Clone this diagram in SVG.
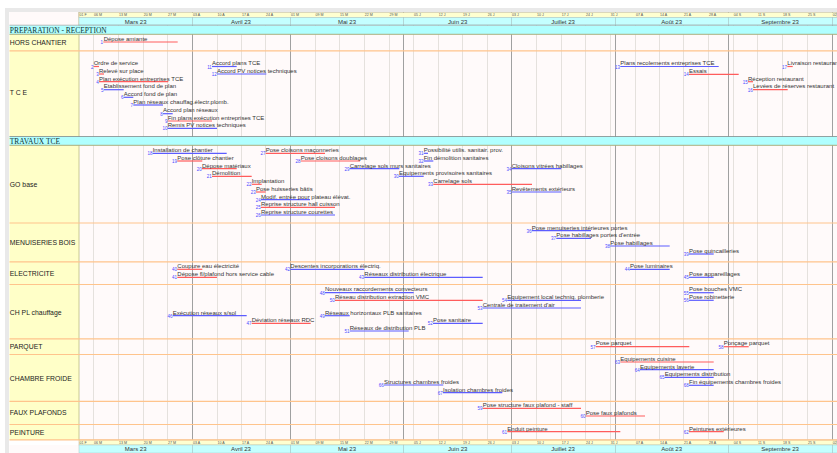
<svg xmlns="http://www.w3.org/2000/svg" width="837" height="453" viewBox="0 0 837 453">
<style>
text{font-family:"Liberation Sans",Arial,sans-serif;fill:#333}
.t{font-size:6px}
.n{font-size:4.5px;fill:#4a4aff;text-anchor:end}
.b{stroke-width:1.2;fill:none}
.blue{stroke:#5c5cff}
.red{stroke:#ff5c5c}
.row{font-size:6.85px;fill:#222}
.sec{font-family:"Liberation Serif","Times New Roman",serif;font-size:7.45px;fill:#113333}
.w{font-size:3.6px;fill:#555}
.m{font-size:6px;text-anchor:middle}
.g{stroke:#e5e1dd;stroke-width:1}
.d{stroke:#a0a0a0;stroke-width:1}
.sep{stroke:#ffc48c;stroke-width:1.2}
.secbox{fill:#b0ffff}
.mbox{fill:#c4ffff;stroke:#a9c8c8;stroke-width:.5}
.wbox{fill:#ffffd0;stroke:#b8b090;stroke-width:.5}
</style>
<rect width="837" height="453" fill="#fff"/>
<path d="M5 453V8H837V12H9V453Z" fill="#e9e9e9"/>
<g id="grid">
<rect x="79" y="25" width="758" height="415" fill="#fffafa"/>
<rect x="9.500" y="12" width="69.500" height="13" fill="#fffafa"/>
<rect x="9.500" y="445" width="69.500" height="8" fill="#fffafa"/>
<rect x="9.500" y="34" width="69.500" height="406" fill="#ffffc8"/>
<path class="g" d="M93.500 25V440M118.500 25V440M143.500 25V440M167.500 25V440M217.500 25V440M241.500 25V440M265.500 25V440M315.500 25V440M339.500 25V440M364.500 25V440M389.500 25V440M413.500 25V440M438.500 25V440M462.500 25V440M487.500 25V440M536.500 25V440M561.500 25V440M585.500 25V440M610.500 25V440M635.500 25V440M659.500 25V440M683.500 25V440M708.500 25V440M733.500 25V440M757.500 25V440M782.500 25V440M807.500 25V440"/>
<path class="d" d="M192.500 12V453M290.500 12V453M403.500 12V453M511.500 12V453M615.500 12V453M728.500 12V453M832.500 12V453"/>
<path stroke="#c8c894" d="M79 12V440" stroke-width="1"/>
</g>
<g id="timeline-top">
<rect class="wbox" x="79" y="12.500" width="758" height="5"/>
<rect class="mbox" x="79" y="17.500" width="113.500" height="7.500"/><rect class="mbox" x="192.500" y="17.500" width="98" height="7.500"/><rect class="mbox" x="290.500" y="17.500" width="113" height="7.500"/><rect class="mbox" x="403.500" y="17.500" width="108" height="7.500"/><rect class="mbox" x="511.500" y="17.500" width="104" height="7.500"/><rect class="mbox" x="615.500" y="17.500" width="113" height="7.500"/><rect class="mbox" x="728.500" y="17.500" width="104" height="7.500"/><rect class="mbox" x="832.500" y="17.500" width="5" height="7.500"/>
<text class="m" x="135.700" y="23.500">Mars 23</text><text class="m" x="241" y="23.500">Avril 23</text><text class="m" x="347" y="23.500">Mai 23</text><text class="m" x="457.700" y="23.500">Juin 23</text><text class="m" x="563" y="23.500">Juillet 23</text><text class="m" x="671.700" y="23.500">Août 23</text><text class="m" x="780" y="23.500">Septembre 23</text>
<g class="weeks"><text class="w" x="79.500" y="16.300">01 F</text><text class="w" x="94" y="16.300">06 M</text><text class="w" x="119" y="16.300">13 M</text><text class="w" x="143.800" y="16.300">20 M</text><text class="w" x="168" y="16.300">27 M</text><text class="w" x="193" y="16.300">03 A</text><text class="w" x="217.500" y="16.300">10 A</text><text class="w" x="242" y="16.300">17 A</text><text class="w" x="266" y="16.300">24 A</text><text class="w" x="291" y="16.300">01 M</text><text class="w" x="315.500" y="16.300">09 M</text><text class="w" x="340" y="16.300">15 M</text><text class="w" x="364.800" y="16.300">22 M</text><text class="w" x="389.500" y="16.300">29 M</text><text class="w" x="414" y="16.300">05 J</text><text class="w" x="438.800" y="16.300">12 J</text><text class="w" x="463" y="16.300">19 J</text><text class="w" x="487.800" y="16.300">26 J</text><text class="w" x="512" y="16.300">03 J</text><text class="w" x="537" y="16.300">10 J</text><text class="w" x="561.800" y="16.300">17 J</text><text class="w" x="586" y="16.300">24 J</text><text class="w" x="610.800" y="16.300">31 J</text><text class="w" x="636" y="16.300">07 A</text><text class="w" x="660" y="16.300">14 A</text><text class="w" x="684" y="16.300">21 A</text><text class="w" x="709" y="16.300">28 A</text><text class="w" x="733.800" y="16.300">04 S</text><text class="w" x="758" y="16.300">11 S</text><text class="w" x="783" y="16.300">18 S</text><text class="w" x="808" y="16.300">25 S</text><text class="w" x="832.800" y="16.300">02 O</text></g>
</g>
<g id="timeline-bottom">
<rect class="wbox" x="79" y="440" width="758" height="5"/>
<rect class="mbox" x="79" y="445" width="113.500" height="8"/><rect class="mbox" x="192.500" y="445" width="98" height="8"/><rect class="mbox" x="290.500" y="445" width="113" height="8"/><rect class="mbox" x="403.500" y="445" width="108" height="8"/><rect class="mbox" x="511.500" y="445" width="104" height="8"/><rect class="mbox" x="615.500" y="445" width="113" height="8"/><rect class="mbox" x="728.500" y="445" width="104" height="8"/><rect class="mbox" x="832.500" y="445" width="5" height="8"/>
<text class="m" x="135.700" y="451.300">Mars 23</text><text class="m" x="241" y="451.300">Avril 23</text><text class="m" x="347" y="451.300">Mai 23</text><text class="m" x="457.700" y="451.300">Juin 23</text><text class="m" x="563" y="451.300">Juillet 23</text><text class="m" x="671.700" y="451.300">Août 23</text><text class="m" x="780" y="451.300">Septembre 23</text>
<g class="weeks"><text class="w" x="79.500" y="444">01 F</text><text class="w" x="94" y="444">06 M</text><text class="w" x="119" y="444">13 M</text><text class="w" x="143.800" y="444">20 M</text><text class="w" x="168" y="444">27 M</text><text class="w" x="193" y="444">03 A</text><text class="w" x="217.500" y="444">10 A</text><text class="w" x="242" y="444">17 A</text><text class="w" x="266" y="444">24 A</text><text class="w" x="291" y="444">01 M</text><text class="w" x="315.500" y="444">09 M</text><text class="w" x="340" y="444">15 M</text><text class="w" x="364.800" y="444">22 M</text><text class="w" x="389.500" y="444">29 M</text><text class="w" x="414" y="444">05 J</text><text class="w" x="438.800" y="444">12 J</text><text class="w" x="463" y="444">19 J</text><text class="w" x="487.800" y="444">26 J</text><text class="w" x="512" y="444">03 J</text><text class="w" x="537" y="444">10 J</text><text class="w" x="561.800" y="444">17 J</text><text class="w" x="586" y="444">24 J</text><text class="w" x="610.800" y="444">31 J</text><text class="w" x="636" y="444">07 A</text><text class="w" x="660" y="444">14 A</text><text class="w" x="684" y="444">21 A</text><text class="w" x="709" y="444">28 A</text><text class="w" x="733.800" y="444">04 S</text><text class="w" x="758" y="444">11 S</text><text class="w" x="783" y="444">18 S</text><text class="w" x="808" y="444">25 S</text><text class="w" x="832.800" y="444">02 O</text></g>
</g>
<g id="sections">
<g id="sec-preparation"><rect class="secbox" x="9.500" y="25.500" width="827.500" height="9"/><path d="M9.500 25.200H837" stroke="#8a9090" stroke-width=".6"/><path d="M9.500 34.300H837" stroke="#a89a60" stroke-width=".8"/><text class="sec" x="9.800" y="32.500">PREPARATION - RECEPTION</text></g>
<g id="sec-travaux"><rect class="secbox" x="9.500" y="136.500" width="827.500" height="9"/><path d="M9.500 136.500H837" stroke="#808a8a" stroke-width=".8"/><path d="M9.500 145.300H837" stroke="#a89a60" stroke-width=".8"/><text class="sec" x="9.800" y="143.500">TRAVAUX TCE</text></g>
</g>
<g id="rows">
<path class="sep" d="M9.500 50.800H837M9.500 223H837M9.500 261.800H837M9.500 284.500H837M9.500 338.800H837M9.500 354.500H837M9.500 401.300H837M9.500 424.500H837M9.500 439.800H837"/>
<g id="row-hors"><text class="row" x="9.800" y="45.300">HORS CHANTIER</text></g>
<g id="row-tce"><text class="row" x="9.800" y="95.300">T C E</text></g>
<g id="row-go"><text class="row" x="9.800" y="187.300">GO base</text></g>
<g id="row-menuiseries"><text class="row" x="9.800" y="245.300">MENUISERIES BOIS</text></g>
<g id="row-electricite"><text class="row" x="9.800" y="275.800">ELECTRICITE</text></g>
<g id="row-chpl"><text class="row" x="9.800" y="314.500">CH PL chauffage</text></g>
<g id="row-parquet"><text class="row" x="9.800" y="349">PARQUET</text></g>
<g id="row-chambre"><text class="row" x="9.800" y="380.500">CHAMBRE FROIDE</text></g>
<g id="row-faux"><text class="row" x="9.800" y="415">FAUX PLAFONDS</text></g>
<g id="row-peinture"><text class="row" x="9.800" y="434.500">PEINTURE</text></g>
</g>
<g id="tasks">
<g id="task-1"><path class="b red" d="M103.300 42H177.700"/><text class="n" x="103" y="44">1</text><text class="t" x="103.700" y="41">Dépose amiante</text></g>
<g id="task-2"><path class="b red" d="M93.700 66.500H99"/><text class="n" x="93.500" y="68.500">2</text><text class="t" x="93.700" y="65">Ordre de service</text></g>
<g id="task-3"><path class="b red" d="M99 74H104"/><text class="n" x="98.800" y="76">3</text><text class="t" x="99" y="73">Relevé sur place</text></g>
<g id="task-4"><path class="b red" d="M99 81.700H168.300"/><text class="n" x="98.800" y="83.700">4</text><text class="t" x="99" y="80.700">Plan exécution entreprises TCE</text></g>
<g id="task-5"><path class="b blue" d="M103.700 89.700H123.700"/><text class="n" x="103.500" y="91.700">5</text><text class="t" x="103.700" y="88">Etablissement fond de plan</text></g>
<g id="task-6"><path class="b blue" d="M123.700 97.300H133.300"/><text class="n" x="123.500" y="99.300">6</text><text class="t" x="123.700" y="96.300">Accord fond de plan</text></g>
<g id="task-7"><path class="b blue" d="M133.300 105H163"/><text class="n" x="133" y="107">7</text><text class="t" x="133.300" y="104">Plan réseaux chauffag.électr.plomb.</text></g>
<g id="task-8"><path class="b blue" d="M163 113.700H172.700"/><text class="n" x="162.800" y="115.700">8</text><text class="t" x="163" y="111.500">Accord plan réseaux</text></g>
<g id="task-9"><path class="b red" d="M167.700 121H212"/><text class="n" x="167.500" y="123">9</text><text class="t" x="167.700" y="119.800">Fin plans exécution entreprises TCE</text></g>
<g id="task-10"><path class="b blue" d="M167.700 128.300H217"/><text class="n" x="167.500" y="130.300">10</text><text class="t" x="167.700" y="127">Remis PV notices techniques</text></g>
<g id="task-11"><path class="b blue" d="M212 66.500H236.700"/><text class="n" x="211.800" y="68.500">11</text><text class="t" x="212" y="65">Accord plans TCE</text></g>
<g id="task-12"><path class="b blue" d="M217 74H266.300"/><text class="n" x="216.800" y="76">12</text><text class="t" x="217" y="73">Accord PV notices techniques</text></g>
<g id="task-13"><path class="b blue" d="M620.300 66.500H718.700"/><text class="n" x="620" y="68.500">13</text><text class="t" x="620.300" y="65">Plans recolements entreprises TCE</text></g>
<g id="task-14"><path class="b red" d="M689 74.300H738.700"/><text class="n" x="688.800" y="76.300">14</text><text class="t" x="689" y="73">Essais</text></g>
<g id="task-15"><path class="b red" d="M748 81.700H753"/><text class="n" x="747.800" y="83.700">15</text><text class="t" x="748" y="80.700">Réception restaurant</text></g>
<g id="task-16"><path class="b red" d="M753 89.700H787.700"/><text class="n" x="752.800" y="91.700">16</text><text class="t" x="753" y="88">Levées de réserves restaurant</text></g>
<g id="task-17"><path class="b red" d="M787.300 66.500H792.700"/><text class="n" x="787" y="68.500">17</text><text class="t" x="787.300" y="65">Livraison restaurant</text></g>
<g id="task-18"><path class="b blue" d="M152.700 153.300H226.700"/><text class="n" x="152.500" y="155.300">18</text><text class="t" x="152.700" y="152">Installation de chantier</text></g>
<g id="task-19"><path class="b red" d="M177.300 161H202.300"/><text class="n" x="177" y="163">19</text><text class="t" x="177.300" y="159.500">Pose clôture chantier</text></g>
<g id="task-20"><path class="b red" d="M202 168.700H236.700"/><text class="n" x="201.800" y="170.700">20</text><text class="t" x="202" y="167.500">Dépose matériaux</text></g>
<g id="task-21"><path class="b red" d="M212 176.300H251.700"/><text class="n" x="211.800" y="178.300">21</text><text class="t" x="212" y="175">Démolition</text></g>
<g id="task-22"><path class="b red" d="M251.700 184.300H261.700"/><text class="n" x="251.500" y="186.300">22</text><text class="t" x="251.700" y="183">Implantation</text></g>
<g id="task-23"><path class="b red" d="M256 192H265.700"/><text class="n" x="255.800" y="194">23</text><text class="t" x="256" y="191">Pose huisseries bâtis</text></g>
<g id="task-24"><path class="b blue" d="M261 199.700H310"/><text class="n" x="260.800" y="201.700">24</text><text class="t" x="261" y="198.500">Modif. entrée pour plateau élévat.</text></g>
<g id="task-25"><path class="b red" d="M261 207.300H335"/><text class="n" x="260.800" y="209.300">25</text><text class="t" x="261" y="206">Reprise structure hall cuisson</text></g>
<g id="task-26"><path class="b blue" d="M261 215H335"/><text class="n" x="260.800" y="217">26</text><text class="t" x="261" y="214">Reprise structure courettes</text></g>
<g id="task-27"><path class="b red" d="M265.700 153.300H325"/><text class="n" x="265.500" y="155.300">27</text><text class="t" x="265.700" y="152">Pose cloisons maçonneries</text></g>
<g id="task-28"><path class="b red" d="M300.700 161H360"/><text class="n" x="300.500" y="163">28</text><text class="t" x="300.700" y="159.500">Pose cloisons doublages</text></g>
<g id="task-29"><path class="b blue" d="M349.700 168.700H399.300"/><text class="n" x="349.500" y="170.700">29</text><text class="t" x="349.700" y="167.500">Carrelage sols murs sanitaires</text></g>
<g id="task-30"><path class="b blue" d="M399 176.300H423.700"/><text class="n" x="398.800" y="178.300">30</text><text class="t" x="399" y="175.300">Equipements provisoires sanitaires</text></g>
<g id="task-31"><path class="b blue" d="M423.700 153.300H428"/><text class="n" x="423.500" y="155.300">31</text><text class="t" x="423.700" y="152">Possibilité utilis. sanitair. prov.</text></g>
<g id="task-32"><path class="b blue" d="M423.700 161H433.300"/><text class="n" x="423.500" y="163">32</text><text class="t" x="423.700" y="159.500">Fin démolition sanitaires</text></g>
<g id="task-33"><path class="b red" d="M433.300 184.300H532"/><text class="n" x="433" y="186.300">33</text><text class="t" x="433.300" y="183">Carrelage sols</text></g>
<g id="task-34"><path class="b blue" d="M511.700 168.700H561.300"/><text class="n" x="511.500" y="170.700">34</text><text class="t" x="511.700" y="167.500">Cloisons vitrées habillages</text></g>
<g id="task-35"><path class="b blue" d="M511.700 192H561.300"/><text class="n" x="511.500" y="194">35</text><text class="t" x="511.700" y="191">Revêtements extérieurs</text></g>
<g id="task-36"><path class="b blue" d="M531.700 230.700H591"/><text class="n" x="531.500" y="232.700">36</text><text class="t" x="531.700" y="229.500">Pose menuiseries intérieures portes</text></g>
<g id="task-37"><path class="b blue" d="M556.300 238.300H591"/><text class="n" x="556" y="240.300">37</text><text class="t" x="556.300" y="237.300">Pose habillages portes d'entrée</text></g>
<g id="task-38"><path class="b blue" d="M610.300 246H669.700"/><text class="n" x="610" y="248">38</text><text class="t" x="610.300" y="245">Pose habillages</text></g>
<g id="task-39"><path class="b blue" d="M689 254H713.700"/><text class="n" x="688.800" y="256">39</text><text class="t" x="689" y="252.500">Pose quincailleries</text></g>
<g id="task-40"><path class="b red" d="M177.300 269.300H202.300"/><text class="n" x="177" y="271.300">40</text><text class="t" x="177.300" y="268">Coupure eau électricité</text></g>
<g id="task-41"><path class="b red" d="M177.300 277.300H217"/><text class="n" x="177" y="279.300">41</text><text class="t" x="177.300" y="275.800">Dépose fl/plafond hors service cable</text></g>
<g id="task-42"><path class="b blue" d="M290.300 269.300H364.300"/><text class="n" x="290" y="271.300">42</text><text class="t" x="290.300" y="268">Descentes incorporations électriq.</text></g>
<g id="task-43"><path class="b blue" d="M364.300 277.300H482.700"/><text class="n" x="364" y="279.300">43</text><text class="t" x="364.300" y="275.800">Réseaux distribution électrique</text></g>
<g id="task-44"><path class="b blue" d="M630 269.300H669.700"/><text class="n" x="629.800" y="271.300">44</text><text class="t" x="630" y="268">Pose luminaires</text></g>
<g id="task-45"><path class="b blue" d="M689 277.300H713.700"/><text class="n" x="688.800" y="279.300">45</text><text class="t" x="689" y="275.800">Pose appareillages</text></g>
<g id="task-46"><path class="b blue" d="M172.700 315.700H246.700"/><text class="n" x="172.500" y="317.700">46</text><text class="t" x="172.700" y="314.500">Exécution réseaux s/sol</text></g>
<g id="task-47"><path class="b red" d="M251.700 323.300H310.700"/><text class="n" x="251.500" y="325.300">47</text><text class="t" x="251.700" y="322">Déviation réseaux RDC</text></g>
<g id="task-48"><path class="b blue" d="M325 292.700H413.700"/><text class="n" x="324.800" y="294.700">48</text><text class="t" x="325" y="291.300">Nouveaux raccordements convecteurs</text></g>
<g id="task-49"><path class="b blue" d="M325 315.700H349.700"/><text class="n" x="324.800" y="317.700">49</text><text class="t" x="325" y="314.500">Réseaux horizontaux PLB sanitaires</text></g>
<g id="task-50"><path class="b red" d="M335 300.300H482.700"/><text class="n" x="334.800" y="302.300">50</text><text class="t" x="335" y="298.800">Réseau distribution extraction VMC</text></g>
<g id="task-51"><path class="b blue" d="M349.700 331H408.700"/><text class="n" x="349.500" y="333">51</text><text class="t" x="349.700" y="329.500">Réseaux de distribution PLB</text></g>
<g id="task-52"><path class="b blue" d="M433 323.300H482.700"/><text class="n" x="432.800" y="325.300">52</text><text class="t" x="433" y="322">Pose sanitaire</text></g>
<g id="task-53"><path class="b blue" d="M482.700 308H581"/><text class="n" x="482.500" y="310">53</text><text class="t" x="482.700" y="306.500">Centrale de traitement d'air</text></g>
<g id="task-54"><path class="b blue" d="M507.300 300.300H581"/><text class="n" x="507" y="301.800">54</text><text class="t" x="507.300" y="298.800">Equipement local techniq. plomberie</text></g>
<g id="task-55"><path class="b blue" d="M689 292.700H713.700"/><text class="n" x="688.800" y="294.700">55</text><text class="t" x="689" y="291.300">Pose bouches VMC</text></g>
<g id="task-56"><path class="b blue" d="M689 300.300H713.700"/><text class="n" x="688.800" y="302.300">56</text><text class="t" x="689" y="298.800">Pose robinetterie</text></g>
<g id="task-57"><path class="b red" d="M595.700 346.700H689.300"/><text class="n" x="595.500" y="348.700">57</text><text class="t" x="595.700" y="345.300">Pose parquet</text></g>
<g id="task-58"><path class="b red" d="M723.700 346.700H748.700"/><text class="n" x="723.500" y="348.700">58</text><text class="t" x="723.700" y="345.300">Ponçage parquet</text></g>
<g id="task-59"><path class="b red" d="M482.700 408.300H581"/><text class="n" x="482.500" y="410.300">59</text><text class="t" x="482.700" y="407">Pose structure faux plafond - staff</text></g>
<g id="task-60"><path class="b red" d="M585.700 416H645"/><text class="n" x="585.500" y="418">60</text><text class="t" x="585.700" y="414.800">Pose faux plafonds</text></g>
<g id="task-61"><path class="b red" d="M507.300 431.700H620.300"/><text class="n" x="507" y="433.700">61</text><text class="t" x="507.300" y="430.500">Enduit peinture</text></g>
<g id="task-62"><path class="b red" d="M689 431.700H723.700"/><text class="n" x="688.800" y="433.700">62</text><text class="t" x="689" y="430.500">Peintures extérieures</text></g>
<g id="task-63"><path class="b red" d="M620.300 362H713.700"/><text class="n" x="620" y="364">63</text><text class="t" x="620.300" y="360.800">Equipements cuisine</text></g>
<g id="task-64"><path class="b blue" d="M640 369.700H713.700"/><text class="n" x="639.800" y="371.700">64</text><text class="t" x="640" y="368.500">Equipements laverie</text></g>
<g id="task-65"><path class="b blue" d="M664.700 377.300H713.700"/><text class="n" x="664.500" y="379.300">65</text><text class="t" x="664.700" y="376">Equipements distribution</text></g>
<g id="task-66"><path class="b blue" d="M384 385H443.300"/><text class="n" x="383.800" y="387">66</text><text class="t" x="384" y="384">Structures chambres froides</text></g>
<g id="task-67"><path class="b blue" d="M443 392.700H502.300"/><text class="n" x="442.800" y="394.700">67</text><text class="t" x="443" y="391.800">Isolation chambres froides</text></g>
<g id="task-68"><path class="b blue" d="M689 385.300H713.700"/><text class="n" x="688.800" y="387.300">68</text><text class="t" x="689" y="384">Fin équipements chambres froides</text></g>
</g>
</svg>
